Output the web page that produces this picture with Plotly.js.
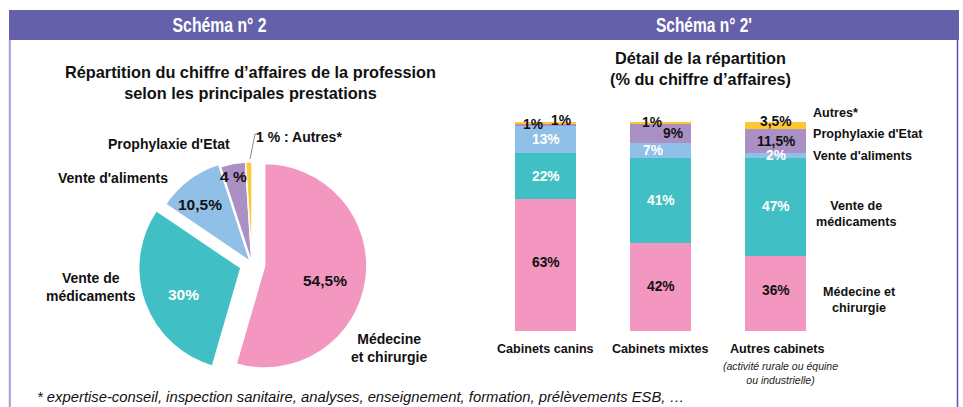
<!DOCTYPE html>
<html>
<head>
<meta charset="utf-8">
<script src="https://cdn.plot.ly/plotly-3.0.1.min.js"></script>
<style>html,body{margin:0;padding:0;background:#fff;}#chart{width:963px;height:407px;}</style>
</head>
<body>
<div id="chart"></div>
<script>
// ---------- DATA ----------
const pieLabels = ["Médecine et chirurgie", "Vente de médicaments", "Vente d'aliments", "Prophylaxie d'Etat", "Autres*"];
const pieValues = [54.5, 30, 10.5, 4, 1];

const barCategories = ["Cabinets canins", "Cabinets mixtes", "Autres cabinets"];
const barCategoryNotes = ["", "", "(activité rurale ou équine<br>ou industrielle)"];
const seriesNames = ["Médecine et chirurgie", "Vente de médicaments", "Vente d'aliments", "Prophylaxie d'Etat", "Autres*"];
const medecine   = [63, 42, 36];
const medicaments = [22, 41, 47];
const aliments   = [13, 7, 2];
const prophylaxie = [1, 9, 11.5];
const autres     = [1, 1, 3.5];
const barSeries = [medecine, medicaments, aliments, prophylaxie, autres];

const headerLeft = "Schéma n° 2";
const headerRight = "Schéma n° 2'";
const pieTitle = "Répartition du chiffre d’affaires de la profession<br>selon les principales prestations";
const barTitle = "Détail de la répartition<br>(% du chiffre d’affaires)";
const footnote = "* expertise-conseil, inspection sanitaire, analyses, enseignement, formation, prélèvements ESB, …";
const rightLabels = ["Médecine et<br>chirurgie", "Vente de<br>médicaments", "Vente d'aliments", "Prophylaxie d'Etat", "Autres*"];
const pieOuterLabels = ["Médecine<br>et chirurgie", "Vente de<br>médicaments", "Vente d'aliments", "Prophylaxie d'Etat", ": Autres*"];

// ---------- STYLE ----------
const colors = ["#F396C0", "#40C0C4", "#90BFE7", "#AB90C6", "#FDC92F"];
const W = 963, H = 407;
const X = px => px / W;
const Y = py => 1 - py / H;
const FONT = "Arial, 'Liberation Sans', sans-serif";
const fmt = (v, sep) => String(v).replace('.', ',') + (sep || '') + '%';

// pie geometry (pixels)
const pieCx = 252, pieCy = 264, pieSize = 230;
const piePull = [0.125, 0.115, 0.03, 0, 0];
// inside pie labels: pixel positions, colours
const pieInPos = [[325, 280], [183, 294], [200, 204], [233, 176], [268, 137]];
const pieInColor = ["#111", "#fff", "#111", "#111", "#111"];
const pieInSep = ["", "", "", " ", " "];
const pieOutPos = [[389, 348], [91, 287], [113, 178], [169, 144], [313, 137]];

// bar label pixel shifts [dx, dy] per series per category
const barShift = [
  [[0, 3], [0, 1], [0, 3]],
  [[0, 0], [0, 0], [0, 0]],
  [[0, 0], [-8, 0], [0, 0]],
  [[-13, 1], [12, 0], [0, 0]],
  [[15, 3], [-9, 1], [0, 4]]
];
const barTextColor = ["#111", "#fff", "#fff", "#111", "#111"];
const rightLabelPos = [[859, 300, 'center'], [856, 214, 'center'], [811, 156, 'left'], [811, 134, 'left'], [811, 113, 'left']];

// ---------- TRACES ----------
const traces = [];
traces.push({
  type: 'pie',
  labels: pieLabels,
  values: pieValues,
  sort: false,
  direction: 'clockwise',
  rotation: 0,
  pull: piePull,
  marker: {colors: colors, line: {color: '#fff', width: 1.5}},
  textinfo: 'none',
  hoverinfo: 'none',
  domain: {x: [X(pieCx - pieSize / 2), X(pieCx + pieSize / 2)], y: [Y(pieCy + pieSize / 2), Y(pieCy - pieSize / 2)]}
});
barSeries.forEach((vals, i) => {
  traces.push({
    type: 'bar',
    name: seriesNames[i],
    x: barCategories,
    y: vals,
    marker: {color: colors[i], line: {width: 0}},
    hoverinfo: 'none',
    xaxis: 'x', yaxis: 'y'
  });
});

// ---------- ANNOTATIONS ----------
const ann = [];
const txt = (x, y, text, size, color, opts) => Object.assign({
  xref: 'paper', yref: 'paper', x: X(x), y: Y(y), text: text, showarrow: false,
  font: {family: FONT, size: size, color: color}, xanchor: 'center', yanchor: 'middle'
}, opts || {});

// headers
ann.push(txt(219, 25, "<b>" + headerLeft + "</b>", 20, "#fff"));
ann.push(txt(704, 25, "<b>" + headerRight + "</b>", 20, "#fff"));
// titles
ann.push(txt(250, 83, "<b>" + pieTitle + "</b>", 16.3, "#111"));
ann.push(txt(700, 68, "<b>" + barTitle + "</b>", 16.3, "#111"));
// pie inside values
pieValues.forEach((v, i) => {
  ann.push(txt(pieInPos[i][0], pieInPos[i][1], "<b>" + fmt(v, pieInSep[i]) + "</b>", i === 4 ? 14 : 15.5, pieInColor[i]));
  ann.push(txt(pieOutPos[i][0], pieOutPos[i][1], "<b>" + pieOuterLabels[i] + "</b>", 14, "#111"));
});
// bar value labels
const barTop = 122, barBottom = 331;
barCategories.forEach((cat, c) => {
  let cum = 0;
  barSeries.forEach((vals, s) => {
    const v = vals[c];
    const mid = cum + v / 2;
    cum += v;
    ann.push({
      xref: 'x', yref: 'y', x: cat, y: mid, text: "<b>" + fmt(v) + "</b>", showarrow: false,
      xshift: barShift[s][c][0], yshift: barShift[s][c][1],
      font: {family: FONT, size: 13.8, color: barTextColor[s]}, xanchor: 'center', yanchor: 'middle'
    });
  });
  ann.push({xref: 'x', yref: 'paper', x: cat, y: Y(349), text: "<b>" + cat + "</b>", showarrow: false,
    font: {family: FONT, size: 12.6, color: '#111'}, xanchor: 'center', yanchor: 'middle', xshift: c === 2 ? 1 : 0});
  if (barCategoryNotes[c]) {
    ann.push({xref: 'x', yref: 'paper', x: cat, y: Y(373), text: "<i>" + barCategoryNotes[c] + "</i>", showarrow: false,
      font: {family: FONT, size: 10.5, color: '#222'}, xanchor: 'center', yanchor: 'middle', xshift: 5});
  }
});
// right side labels
rightLabels.forEach((t, i) => {
  const p = rightLabelPos[i];
  ann.push(txt(p[0], p[1], "<b>" + t + "</b>", 12.6, "#111", {xanchor: p[2], align: p[2]}));
});
// footnote
ann.push(txt(35, 397, "<i>" + footnote + "</i>", 14.8, "#111", {xanchor: 'left'}));

// ---------- SHAPES ----------
const shapes = [
  {type: 'rect', xref: 'paper', yref: 'paper', x0: X(9), x1: X(959), y0: Y(40), y1: Y(10), fillcolor: '#6560AA', line: {width: 0}, layer: 'below'},
  {type: 'line', xref: 'paper', yref: 'paper', x0: X(9.8), x1: X(9.8), y0: Y(40), y1: Y(407), line: {color: '#A49ED4', width: 2}},
  {type: 'line', xref: 'paper', yref: 'paper', x0: X(957.5), x1: X(957.5), y0: Y(40), y1: Y(407), line: {color: '#5652C4', width: 1.5}},
  {type: 'path', xref: 'paper', yref: 'paper',
   path: `M ${X(259)} ${Y(134)} L ${X(255)} ${Y(134)} L ${X(250)} ${Y(159)}`, line: {color: '#8a8a8a', width: 1}}
];

const layout = {
  width: W, height: H,
  margin: {l: 0, r: 0, t: 0, b: 0},
  paper_bgcolor: '#fff', plot_bgcolor: 'rgba(0,0,0,0)',
  showlegend: false,
  barmode: 'stack',
  bargap: 0.47,
  xaxis: {domain: [X(488), X(833)], type: 'category', range: [-0.5, 2.5], autorange: false, showticklabels: false, showgrid: false, zeroline: false, showline: false, ticks: '', fixedrange: true},
  yaxis: {domain: [Y(barBottom), Y(barTop)], range: [0, 100], autorange: false, showticklabels: false, showgrid: false, zeroline: false, showline: false, ticks: '', fixedrange: true},
  annotations: ann,
  shapes: shapes,
  font: {family: FONT}
};

Plotly.newPlot('chart', traces, layout, {staticPlot: true, displayModeBar: false}).then(() => {
  // condensed header lettering
  const widths = {};
  widths[headerLeft] = 94;
  widths[headerRight] = 96;
  document.querySelectorAll('.annotation-text').forEach(el => {
    const t = el.textContent;
    if (widths[t]) {
      el.setAttribute('textLength', widths[t]);
      el.setAttribute('lengthAdjust', 'spacingAndGlyphs');
    }
  });
});
</script>
</body>
</html>
